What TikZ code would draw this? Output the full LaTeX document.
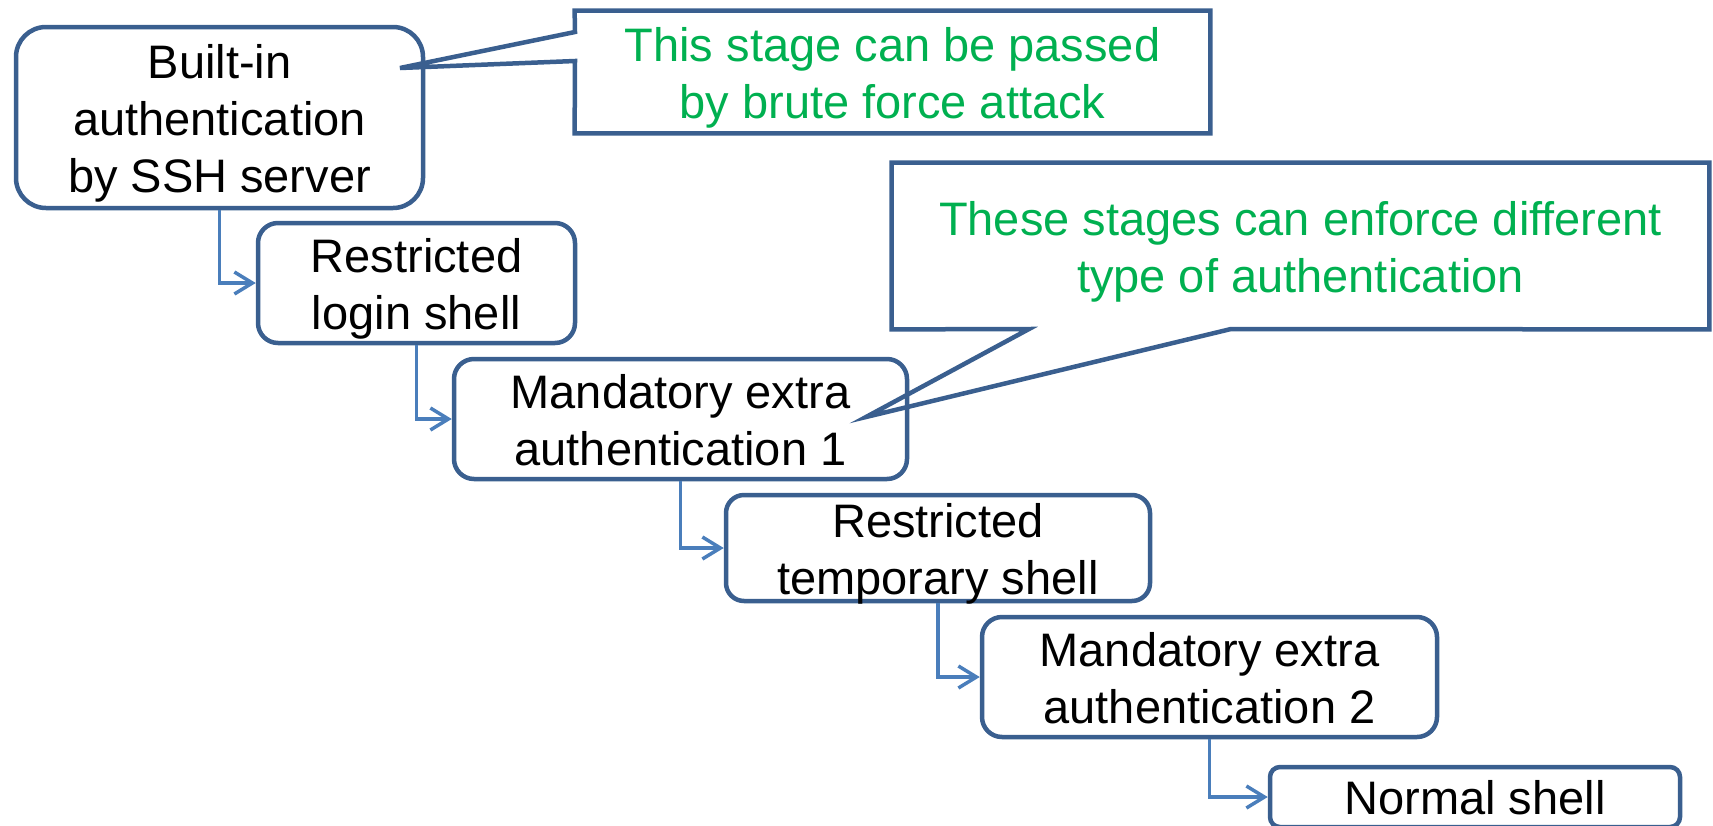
\documentclass[tikz,border=0pt]{standalone}
\usepackage{fontspec}
\setmainfont{Liberation Sans}
\usetikzlibrary{arrows.meta}
\definecolor{boxblue}{HTML}{3A5F8F}
\definecolor{linkblue}{HTML}{4A7EBB}
\definecolor{callgreen}{HTML}{00B050}
\newcommand{\lst}{\rule[-0.214em]{0pt}{0.93em}}
\newcommand{\fst}{\rule[-0.214em]{0pt}{1.185em}}
\begin{document}
\begin{tikzpicture}[x=0.5pt,y=-0.5pt,
  bigfont/.style={font=\fontsize{23.5}{28.5}\selectfont},
  stage/.style={draw=boxblue, line width=2.25pt, fill=white, align=center, bigfont, inner sep=-40pt},
  link/.style={draw=linkblue, line width=1.75pt, -{Straight Barb[length=9pt,width=11pt]}},
  callout/.style={draw=boxblue, line width=2.25pt, line join=miter},
  calltext/.style={text=callgreen, align=center, bigfont, inner sep=-40pt}]
\useasboundingbox (0,0) rectangle (1713,825);

% stages
\node[stage, minimum width=203.5pt, minimum height=90.5pt, rounded corners=15pt] (b1) at (219.5,117.5)
  {\fst Built-in\\\lst authentication\\\lst by SSH server};
\node[stage, minimum width=158.5pt, minimum height=60pt, rounded corners=10pt] (b2) at (416.5,283)
  {\fst Restricted\\\lst login shell};
\node[stage, minimum width=226.5pt, minimum height=60pt, rounded corners=10pt] (b3) at (680.5,419)
  {\fst Mandatory extra\\\lst authentication 1};
\node[stage, minimum width=212pt, minimum height=53pt, rounded corners=9pt] (b4) at (938,548)
  {\fst Restricted\\\lst temporary shell};
\node[stage, minimum width=227.5pt, minimum height=60pt, rounded corners=10pt] (b5) at (1209.5,677)
  {\fst Mandatory extra\\\lst authentication 2};
\node[stage, minimum width=205pt, minimum height=30pt, rounded corners=5pt] (b6) at (1475,797)
  {\fst Normal shell};

% connectors
\draw[link] (b1.south) |- (b2.west);
\draw[link] (b2.south) |- (b3.west);
\draw[link] (b3.south) |- (b4.west);
\draw[link] (b4.south) |- (b5.west);
\draw[link] (b5.south) |- (b6.west);

% callout 1
\node[calltext, minimum width=317.5pt, minimum height=61pt] (c1) at (892.5,72)
  {\fst This stage can be passed\\\lst by brute force attack};
\coordinate (c1tip) at (400,68);
\coordinate (c1lo) at (575,61);
\coordinate (c1hi) at (575,32);
\draw[callout] (c1.north west) -- (c1.north east) -- (c1.south east) -- (c1.south west)
  -- (c1lo) -- (c1tip) -- (c1hi) -- cycle;

% callout 2
\node[calltext, minimum width=408.5pt, minimum height=83pt] (c2) at (1300.5,246)
  {\fst These stages can enforce different\\\lst type of authentication};
\coordinate (c2tip) at (866,417);
\coordinate (c2r) at (1231,329);
\coordinate (c2l) at (1029,329);
\draw[callout] (c2.north west) -- (c2.north east) -- (c2.south east)
  -- (c2r) -- (c2tip) -- (c2l) -- (c2.south west) -- cycle;
\end{tikzpicture}
\end{document}
